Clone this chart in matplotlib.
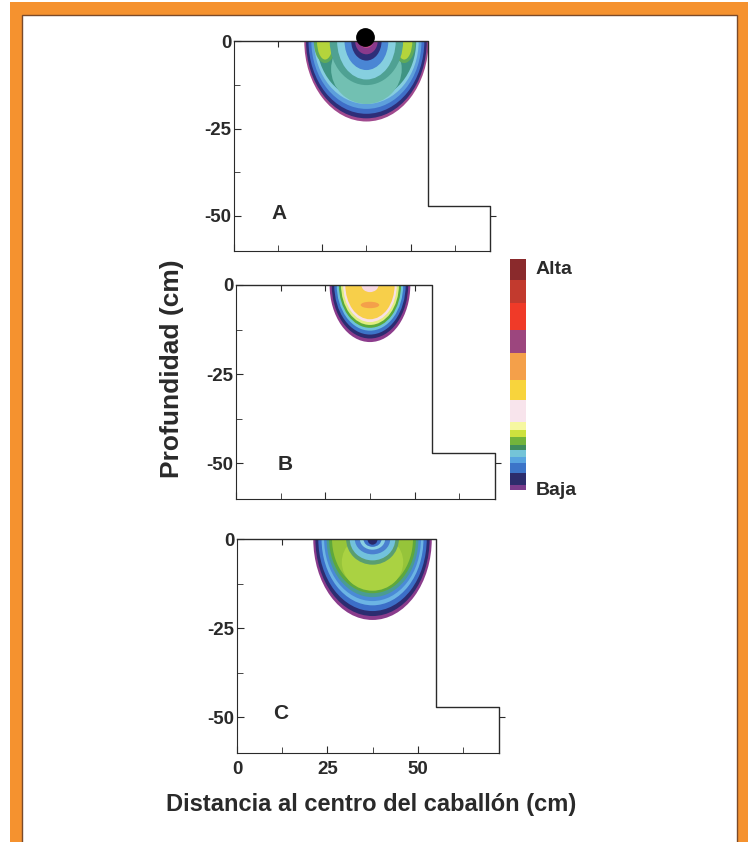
import numpy as np
import matplotlib.pyplot as plt
from matplotlib.patches import Ellipse, Rectangle
from matplotlib.colors import ListedColormap, BoundaryNorm
from matplotlib.cm import ScalarMappable

plt.rcParams['font.family'] = ['Liberation Sans', 'DejaVu Sans']
plt.rcParams['font.weight'] = 'bold'

# soil profile (cm): ridge top, ridge side, furrow bottom
profile_x = [0, 55, 55, 72.5, 72.5]
profile_y = [0, 0, -47, -47, -60]
drip_x, drip_y = 37.0, 1.1

# wetting bulb layers, drawn in order (centre x, centre y, half width, half depth, colour)
A_cx = [37.5, 37.5, 37.5, 37.5, 37.5, 37.5, 37.5, 25.8, 25.8, 48.2, 48.2, 37.5, 37.5, 37.5, 37.5, 37.5, 37.5]
A_cy = [0, 0, 0, 0, 0, 0, -8, 0, 0, 0, 0, 0, 0, 0, 0, 0, 0]
A_a = [17.6, 17.1, 16.4, 15.6, 14.8, 14.1, 10.0, 3.2, 2.3, 3.2, 2.3, 10.4, 8.3, 6.2, 4.3, 3.2, 2.0]
A_b = [23.0, 22.1, 20.8, 19.4, 18.0, 16.8, 10.0, 6.3, 5.3, 6.3, 5.3, 12.6, 11.0, 8.3, 5.6, 3.8, 2.0]
A_col = ['#a04a8e', '#2e2e78', '#3f6fc8', '#5d9fdc', '#86cde0', '#3f9483', '#72c0b2',
         '#5faa5a', '#b4d43c', '#5faa5a', '#b4d43c', '#4fa193', '#86cfdf', '#4a86d4',
         '#2e2e78', '#8a3a8c', '#c04a8a']

B_cx = [37.5, 37.5, 37.5, 37.5, 37.5, 37.5, 37.5, 37.5, 37.5, 37.5]
B_cy = [0, 0, 0, 0, 0, 0, 0, 0, -5.6, 0]
B_a = [11.3, 10.7, 10.0, 9.3, 8.7, 8.1, 7.5, 6.9, 2.6, 2.4]
B_b = [16.0, 15.0, 13.9, 12.8, 12.0, 11.2, 10.4, 9.6, 0.9, 2.0]
B_col = ['#8c3c8c', '#2c2c70', '#3c74c8', '#6ec0dc', '#5aaa3c', '#e2ee80', '#f8e0e6',
         '#f7cf4a', '#f4a04a', '#f6d8e2']

C_cx = [37.5] * 15
C_cy = [0, 0, 0, 0, 0, 0, 0, 0, -6.5, 0, 0, 0, 0, 0, 0]
C_a = [16.4, 15.8, 15.0, 14.1, 13.4, 12.7, 12.0, 11.2, 8.5, 7.3, 6.3, 4.9, 3.5, 2.5, 1.4]
C_b = [22.7, 21.6, 20.2, 18.6, 17.4, 16.3, 15.2, 14.2, 8.0, 7.2, 6.0, 4.3, 3.0, 2.2, 1.6]
C_col = ['#8a3c8c', '#2c2c70', '#3c6fc8', '#6cb4e4', '#4a8ad6', '#4a9c92', '#5ea83c',
         '#96c43a', '#aad242', '#5a9e70', '#72c2dc', '#4a80d0', '#8ad0e4', '#3c6fc8', '#28286a']

# colour scale (Baja -> Alta), band edges
scale_edges = [0, 5, 17, 27, 33, 40, 45, 53, 60, 68, 90, 110, 137, 160, 187, 210, 231]
scale_cols = ['#7a3c8c', '#2c2c6c', '#3c74c8', '#58a4e0', '#74c4d8', '#3e8c5e', '#72b43c',
              '#cde23e', '#f6f7a0', '#f8e4ec', '#f8d43c', '#f4a04a', '#9c467e', '#f03a28',
              '#c23a2e', '#8a2a2c']

W, H = 748, 842
fig = plt.figure(figsize=(W/100, H/100), dpi=100)

# orange frame
fig.patches.append(Rectangle((10/W, 0), 1, 1 - 2/H, transform=fig.transFigure,
                             facecolor='#f5922f', edgecolor='none', zorder=-10))
fig.patches.append(Rectangle((22/W, -0.01), 715/W, 1 - 15/H + 0.01, transform=fig.transFigure,
                             facecolor='white', edgecolor='#7a4a2a', lw=1, zorder=-9))

panels = [('A', [234, 41, 490, 251], A_cx, A_cy, A_a, A_b, A_col, (12.7, -49.3)),
          ('B', [236, 285, 495, 499], B_cx, B_cy, B_a, B_b, B_col, (13.9, -50.4)),
          ('C', [237, 539, 499, 753], C_cx, C_cy, C_a, C_b, C_col, (12.2, -49.0))]

ink = '#2a2a2a'
for i, (lab, box, cx, cy, aa, bb, cols, lpos) in enumerate(panels):
    l, t, r, b = box
    ax = fig.add_axes([l/W, 1 - b/H, (r - l)/W, (b - t)/H])
    for x0, y0, a, bh, c in zip(cx, cy, aa, bb, cols):
        ax.add_patch(Ellipse((x0, y0), 2*a, 2*bh, facecolor=c, edgecolor='none'))
    ax.plot(profile_x, profile_y, color=ink, lw=1, clip_on=False, zorder=5)
    ax.set_xlim(0, 72.5)
    ax.set_ylim(-60, 0)
    for s in ['top', 'right']:
        ax.spines[s].set_visible(False)
    for s in ['left', 'bottom']:
        ax.spines[s].set_color(ink)
    ax.set_xticks([0, 25, 50])
    ax.set_xticks([12.5, 37.5, 62.5], minor=True)
    ax.set_yticks([0, -25, -50])
    ax.set_yticks([-12.5, -37.5], minor=True)
    ax.tick_params(which='both', direction='in', color=ink, labelsize=13.5, pad=2)
    ax.tick_params(which='major', length=5)
    ax.tick_params(which='minor', length=4)
    ax.set_yticklabels(['0', '-25', '-50'], fontweight='bold', color=ink)
    if lab == 'C':
        ax.set_xticklabels(['0', '25', '50'], fontweight='bold', color=ink)
        ax.tick_params(axis='x', pad=6)
    else:
        ax.set_xticklabels([])
    top = ax.secondary_xaxis('top')
    top.set_xticks([12.5, 25, 37.5, 50])
    top.set_xticklabels([])
    top.tick_params(direction='in', length=4, color=ink)
    top.spines['top'].set_visible(False)
    rt = ax.secondary_yaxis('right')
    rt.set_yticks([-50])
    rt.set_yticklabels([])
    rt.tick_params(direction='out', length=4, color=ink)
    rt.spines['right'].set_visible(False)
    ax.text(lpos[0], lpos[1], lab, fontsize=15, fontweight='bold', color=ink,
            ha='center', va='center')
    if lab == 'A':
        ax.plot(drip_x, drip_y, 'o', ms=12.5, color='black', clip_on=False, zorder=10)

# colour bar
cax = fig.add_axes([510/W, 1 - 490/H, 16/W, 231/H])
cmap = ListedColormap(scale_cols)
norm = BoundaryNorm(scale_edges, cmap.N)
cb = fig.colorbar(ScalarMappable(norm=norm, cmap=cmap), cax=cax, spacing='proportional')
cb.set_ticks([])
cb.minorticks_off()
cax.tick_params(which='both', length=0)
cb.outline.set_visible(False)
fig.text(536/W, 1 - 270/H, 'Alta', fontsize=14, fontweight='bold', color=ink, va='center')
fig.text(536/W, 1 - 490/H, 'Baja', fontsize=14, fontweight='bold', color=ink, va='center')

fig.text(172/W, 1 - 369/H, 'Profundidad (cm)', rotation=90, fontsize=19, fontweight='bold',
         color=ink, ha='center', va='center')
fig.text(371/W, 1 - 805/H, 'Distancia al centro del caballón (cm)', fontsize=17,
         fontweight='bold', color=ink, ha='center', va='center')

fig.savefig('out.png', dpi=100)
